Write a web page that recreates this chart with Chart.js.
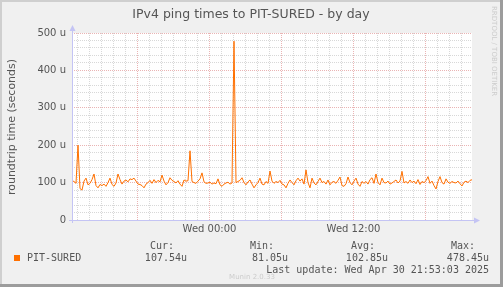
<!DOCTYPE html>
<html>
<head>
<meta charset="utf-8">
<script src="https://cdn.jsdelivr.net/npm/chart.js@4.4.0/dist/chart.umd.min.js"></script>
<style>
  html, body { margin: 0; padding: 0; background: #f0f0f0; }
  canvas { display: block; }
</style>
</head>
<body>
<canvas id="myChart" width="503" height="287"></canvas>
<script>
// ping times (microseconds), one sample every 10 min, hours relative to Wed 00:00
const startHour = -11.4583;
const stepHour = 1 / 6;
const pingU = [
  105, 103, 98, 200, 84, 80, 104, 112, 94, 98, 108, 123, 92, 86, 95, 92, 96, 90, 100, 112,
  95, 90, 99, 123, 108, 96, 104, 107, 102, 110, 108, 112, 104, 96, 95, 92, 86, 96, 100, 106,
  98, 108, 100, 106, 102, 120, 104, 94, 100, 113, 106, 103, 99, 105, 96, 90, 107, 104, 105, 185,
  103, 100, 98, 104, 110, 126, 102, 98, 99, 101, 96, 99, 97, 110, 94, 90, 96, 99, 101, 96,
  99, 478, 100, 103, 106, 113, 100, 94, 102, 107, 96, 86, 94, 100, 112, 96, 94, 103, 98, 131,
  104, 98, 103, 100, 106, 96, 94, 86, 98, 107, 100, 94, 105, 112, 104, 110, 96, 134, 100, 86,
  112, 99, 94, 103, 112, 100, 103, 96, 107, 94, 101, 103, 98, 106, 115, 92, 90, 97, 115, 100,
  94, 104, 112, 96, 90, 103, 98, 103, 96, 108, 113, 98, 123, 100, 94, 112, 100, 99, 104, 96,
  99, 103, 107, 99, 104, 130, 99, 103, 98, 107, 100, 104, 97, 108, 95, 103, 100, 105, 116, 98,
  104, 92, 83, 103, 116, 100, 96, 110, 101, 98, 103, 100, 99, 104, 97, 91, 101, 104, 100, 106,
  107.54
];

const xTickHours = [0, 12];
const xTickText = ['Wed 00:00', 'Wed 12:00'];
const yTickValues = [0, 100, 200, 300, 400, 500];
const yTickText = ['0', '100 u', '200 u', '300 u', '400 u', '500 u'];

const legendName = 'PIT-SURED';
const statLabels = ['Cur:', 'Min:', 'Avg:', 'Max:'];
const statValues = ['107.54u', '81.05u', '102.85u', '478.45u'];

const lineColor = '#ff7000';
const xMin = startHour;
const xMax = startHour + (pingU.length - 1) * stepHour;

let points = pingU.map(function (v, i) {
  return { x: startHour + i * stepHour, y: v };
});

// white plot area, frame and all munin text
const muninDecor = {
  id: 'muninDecor',
  beforeDraw: function (chart) {
    const c = chart.ctx;
    const a = chart.chartArea;
    c.save();
    c.fillStyle = '#f0f0f0';
    c.fillRect(0, 0, chart.width, chart.height);
    c.fillStyle = '#ffffff';
    c.fillRect(a.left, a.top, a.right - a.left, a.bottom - a.top);
    c.restore();
  },
  afterDraw: function (chart) {
    const c = chart.ctx;
    const a = chart.chartArea;
    const W = chart.width, H = chart.height;
    c.save();
    // frame
    c.fillStyle = '#cfcfcf';
    c.fillRect(0, 0, W, 2);
    c.fillRect(0, 0, 2, H);
    c.fillStyle = '#9c9c9c';
    c.fillRect(W - 3, 0, 3, H);
    c.fillRect(0, H - 3, W, 3);

    // axes with arrows
    c.strokeStyle = '#c4c4f4';
    c.fillStyle = '#c4c4f4';
    c.lineWidth = 1;
    c.beginPath();
    c.moveTo(a.left + 0.5, a.bottom + 3);
    c.lineTo(a.left + 0.5, a.top - 4);
    c.moveTo(a.left - 3, a.bottom + 0.5);
    c.lineTo(a.right + 4, a.bottom + 0.5);
    c.stroke();
    c.beginPath();
    c.moveTo(a.left + 0.5, a.top - 8);
    c.lineTo(a.left - 2.5, a.top - 2);
    c.lineTo(a.left + 3.5, a.top - 2);
    c.closePath();
    c.fill();
    c.beginPath();
    c.moveTo(a.right + 8, a.bottom + 0.5);
    c.lineTo(a.right + 2, a.bottom - 2.5);
    c.lineTo(a.right + 2, a.bottom + 3.5);
    c.closePath();
    c.fill();

    // title
    c.fillStyle = '#555555';
    c.font = '12.5px "DejaVu Sans"';
    c.textAlign = 'center';
    c.textBaseline = 'middle';
    c.fillText('IPv4 ping times to PIT-SURED - by day', 251, 15);

    // y axis title
    c.save();
    c.translate(12, 127);
    c.rotate(-Math.PI / 2);
    c.font = '11px "DejaVu Sans"';
    c.fillText('roundtrip time (seconds)', 0, 0);
    c.restore();

    // rrdtool credit
    c.save();
    c.translate(494, 6);
    c.rotate(Math.PI / 2);
    c.fillStyle = '#cccccc';
    c.font = '7px "DejaVu Sans"';
    c.textAlign = 'left';
    c.fillText('RRDTOOL / TOBI OETIKER', 0, 0);
    c.restore();

    // legend
    c.fillStyle = lineColor;
    c.fillRect(14, 255, 6, 6);
    c.fillStyle = '#555555';
    c.font = '10px "DejaVu Sans Mono"';
    c.textAlign = 'left';
    c.fillText(legendName, 27, 258);
    const labelRight = [174, 274, 375, 475];
    const valueRight = [187, 288, 388, 489];
    c.textAlign = 'right';
    for (let i = 0; i < statLabels.length; i++) {
      c.fillText(statLabels[i], labelRight[i], 246);
      c.fillText(statValues[i], valueRight[i], 258);
    }
    c.fillText('Last update: Wed Apr 30 21:53:03 2025', 489, 270);

    c.fillStyle = '#cccccc';
    c.font = '7px "DejaVu Sans"';
    c.textAlign = 'center';
    c.fillText('Munin 2.0.33', 252, 277);
    c.restore();
  }
};

new Chart(document.getElementById('myChart'), {
  type: 'line',
  data: {
    datasets: [{
      data: points,
      borderColor: lineColor,
      borderWidth: 1,
      pointRadius: 0,
      tension: 0,
      fill: false
    }]
  },
  options: {
    responsive: false,
    devicePixelRatio: 1,
    animation: false,
    layout: { padding: { left: 0, right: 31, top: 33, bottom: 0 } },
    plugins: {
      legend: { display: false },
      tooltip: { enabled: false }
    },
    scales: {
      x: {
        type: 'linear',
        min: xMin,
        max: xMax,
        afterBuildTicks: function (s) {
          let t = [];
          for (let h = Math.ceil(xMin); h <= Math.floor(xMax); h++) t.push({ value: h });
          s.ticks = t;
        },
        afterFit: function (s) { s.height = 67; },
        grid: {
          drawTicks: false,
          color: function (ctx) {
            const v = ctx.tick ? ctx.tick.value : 0;
            return v % 6 === 0 ? '#eab4b4' : '#d8d8d8';
          }
        },
        border: { display: false, dash: [1, 1] },
        ticks: {
          autoSkip: false,
          maxRotation: 0,
          padding: 3,
          color: '#555555',
          font: { family: 'DejaVu Sans', size: 10 },
          callback: function (v) {
            const k = xTickHours.indexOf(v);
            return k >= 0 ? xTickText[k] : '';
          }
        }
      },
      y: {
        min: 0,
        max: 500,
        afterBuildTicks: function (s) {
          let t = [];
          for (let v = 0; v <= 500; v += 20) t.push({ value: v });
          s.ticks = t;
        },
        afterFit: function (s) { s.width = 72; },
        grid: {
          drawTicks: false,
          color: function (ctx) {
            const v = ctx.tick ? ctx.tick.value : 0;
            return v % 100 === 0 ? '#eab4b4' : '#d8d8d8';
          }
        },
        border: { display: false, dash: [1, 1] },
        ticks: {
          autoSkip: false,
          padding: 6,
          color: '#555555',
          font: { family: 'DejaVu Sans', size: 10 },
          callback: function (v) {
            const k = yTickValues.indexOf(v);
            return k >= 0 ? yTickText[k] : '';
          }
        }
      }
    }
  },
  plugins: [muninDecor]
});
</script>
</body>
</html>
